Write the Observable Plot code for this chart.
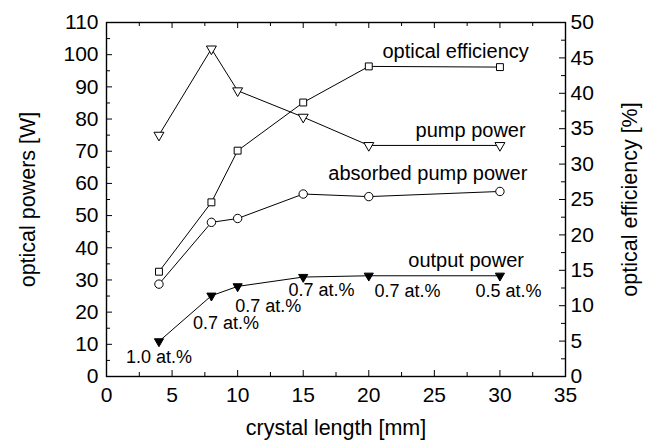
<!DOCTYPE html>
<html>
<head>
<meta charset="utf-8">
<script src="https://cdn.jsdelivr.net/npm/d3@7"></script>
<script src="https://cdn.jsdelivr.net/npm/@observablehq/plot@0.6"></script>
<style>
  html, body { margin: 0; padding: 0; background: #fff; }
  #chart svg { font-family: "Liberation Sans", Arial, sans-serif; }
</style>
</head>
<body>
<div id="chart"></div>
<script>
// crystal lengths [mm]
const lengths = [4, 8, 10, 15, 20, 30];
// optical powers [W]
const pumpPower = [75, 101.8, 88.8, 80.6, 71.8, 71.8];
const absorbedPower = [28.7, 47.9, 49.1, 56.7, 55.9, 57.5];
const outputPower = [10.9, 25.1, 28.0, 30.9, 31.3, 31.3];
// optical efficiency [%]
const efficiency = [14.8, 24.6, 31.9, 38.7, 43.8, 43.7];
// doping labels
const doping = ["1.0 at.%", "0.7 at.%", "0.7 at.%", "0.7 at.%", "0.7 at.%", "0.5 at.%"];
// series names
const seriesNames = ["optical efficiency", "pump power", "absorbed pump power", "output power"];

// axis ticks
const xTicks = d3.range(0, 36, 5);
const xMinor = d3.range(2.5, 35, 5);
const yTicks = d3.range(0, 111, 10);
const yMinor = d3.range(5, 110, 10);
const effTicks = d3.range(0, 51, 5);
const effMinor = d3.range(2.5, 50, 5);

const k = 110 / 50; // efficiency % -> W scale
const rows = lengths.map((x, i) => ({
  x, pump: pumpPower[i], abs: absorbedPower[i], out: outputPower[i],
  eff: efficiency[i] * k, dop: doping[i]
}));

// annotation placement (layout, not data)
const seriesLabelPos = [[32.2, 100.9], [31.96, 76.5], [32.09, 63.0], [31.83, 36.1]];
const labels = seriesNames.map((t, i) => ({t, x: seriesLabelPos[i][0], y: seriesLabelPos[i][1]}));
const dopOffsets = [[0, 15.5], [14.6, 27.6], [30.5, 20], [18.3, 13], [38.8, 15], [8.5, 15]];

const W = 655, H = 442;
const mL = 106, mR = 90, mT = 22, mB = 66;
const pw = W - mL - mR, ph = H - mT - mB;
const maj = 6, mnr = 4;

const chart = Plot.plot({
  width: W, height: H,
  marginLeft: mL, marginRight: mR, marginTop: mT, marginBottom: mB,
  style: {fontSize: "21px", fontFamily: "Liberation Sans, Arial, sans-serif", background: "#fff", color: "black"},
  x: {domain: [0, 35]},
  y: {domain: [0, 110]},
  marks: [
    // inward ticks
    Plot.tickX(xTicks, {x: d => d, insetTop: ph - maj, stroke: "black"}),
    Plot.tickX(xMinor, {x: d => d, insetTop: ph - mnr, stroke: "black"}),
    Plot.tickX(xTicks, {x: d => d, insetBottom: ph - maj, stroke: "black"}),
    Plot.tickX(xMinor, {x: d => d, insetBottom: ph - mnr, stroke: "black"}),
    Plot.tickY(yTicks, {y: d => d, insetRight: pw - maj, stroke: "black"}),
    Plot.tickY(yMinor, {y: d => d, insetRight: pw - mnr, stroke: "black"}),
    Plot.tickY(effTicks, {y: d => d * k, insetLeft: pw - maj, stroke: "black"}),
    Plot.tickY(effMinor, {y: d => d * k, insetLeft: pw - mnr, stroke: "black"}),
    Plot.frame({stroke: "black", strokeWidth: 1.4}),
    Plot.axisX({ticks: xTicks, tickSize: 0, tickPadding: 11, label: null, fill: "black"}),
    Plot.axisY({ticks: yTicks, tickSize: 0, tickPadding: 8, label: null, fill: "black"}),
    Plot.axisY({anchor: "right", ticks: effTicks.map(d => d * k), tickFormat: d => String(Math.round(d / k)), tickSize: 0, tickPadding: 5, label: null, fill: "black"}),
    // axis titles
    Plot.text(["crystal length [mm]"], {frameAnchor: "bottom", dy: 52, lineAnchor: "middle", textAnchor: "middle", fontSize: 21.5, text: d => d, fill: "black"}),
    Plot.text(["optical powers [W]"], {frameAnchor: "left", dx: -78, rotate: -90, textAnchor: "middle", lineAnchor: "middle", fontSize: 21.5, text: d => d, fill: "black"}),
    Plot.text(["optical efficiency [%]"], {frameAnchor: "right", dx: 65, rotate: -90, textAnchor: "middle", lineAnchor: "middle", fontSize: 21.5, text: d => d, fill: "black"}),
    // lines
    Plot.line(rows, {x: "x", y: "pump", stroke: "black", strokeWidth: 1}),
    Plot.line(rows, {x: "x", y: "eff", stroke: "black", strokeWidth: 1}),
    Plot.line(rows, {x: "x", y: "abs", stroke: "black", strokeWidth: 1}),
    Plot.line(rows, {x: "x", y: "out", stroke: "black", strokeWidth: 1}),
    // markers
    Plot.dot(rows, {x: "x", y: "pump", symbol: "triangle", rotate: 180, r: 3.7, fill: "white", stroke: "black", strokeWidth: 1}),
    Plot.dot(rows, {x: "x", y: "eff", symbol: "square", r: 3.9, fill: "white", stroke: "black", strokeWidth: 1}),
    Plot.dot(rows, {x: "x", y: "abs", symbol: "circle", r: 4.2, fill: "white", stroke: "black", strokeWidth: 1}),
    Plot.dot(rows, {x: "x", y: "out", symbol: "triangle", rotate: 180, r: 3.4, fill: "black", stroke: "black", strokeWidth: 1}),
    // doping annotations
    ...rows.map((r, i) => Plot.text([r], {x: "x", y: "out", text: "dop", dx: dopOffsets[i][0], dy: dopOffsets[i][1], textAnchor: "middle", fontSize: 18, fill: "black"})),
    // series names
    Plot.text(labels, {x: "x", y: "y", text: "t", textAnchor: "end", fontSize: 20, fill: "black"})
  ]
});
document.getElementById("chart").appendChild(chart);
</script>
</body>
</html>
